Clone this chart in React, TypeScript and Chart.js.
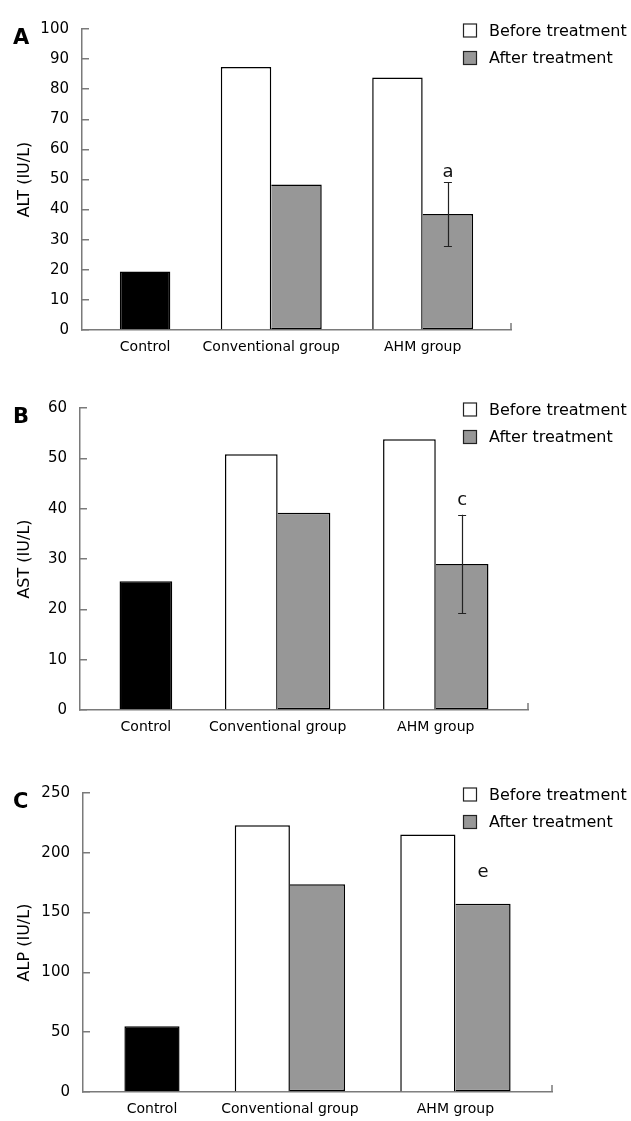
import React, { useEffect, useRef } from 'react';
import { Chart, registerables } from 'chart.js';

Chart.register(...registerables);

const FONT = '"DejaVu Sans", Verdana, sans-serif';

// ---- data ----
const categories = ['Control', 'Conventional group', 'AHM group'];
const seriesLabels = ['Before treatment', 'After treatment'];

const altControl = [19.4];
const altBefore = [87.4, 83.9];
const altAfter = [48.3, 38.5];
const altAfterSD = [null, 10.7];
const altMarks = ['', 'a'];
const altAxis = [0, 100, 10]; // min, max, step

const astControl = [25.6];
const astBefore = [50.8, 53.8];
const astAfter = [39.2, 29.0];
const astAfterSD = [null, 9.8];
const astMarks = ['', 'c'];
const astAxis = [0, 60, 10];

const alpControl = [54.9];
const alpBefore = [223.1, 215.2];
const alpAfter = [173.8, 157.5];
const alpAfterSD = [null, null];
const alpMarks = ['', 'e'];
const alpAxis = [0, 250, 50];

// ---- slot layout (each slot = half a bar width) ----
const SLOT_COUNT = 17;
const CONTROL_SLOTS = [2];
const LABEL_SLOTS = [2, 7, 13];
const BEFORE_SLOTS = [6, 12];
const AFTER_SLOTS = [8, 14];

function spread(values: (number | null)[], slots: number[]) {
  const arr: (number | null)[] = Array(SLOT_COUNT).fill(null);
  slots.forEach((s, i) => {
    arr[s] = values[i] ?? null;
  });
  return arr;
}

function slotLabels() {
  const arr: string[] = Array(SLOT_COUNT).fill('');
  LABEL_SLOTS.forEach((s, i) => (arr[s] = categories[i]));
  return arr;
}

const AXIS_COLOR = '#7a7a7a';
const GREY = '#979797';

type Panel = {
  letter: string;
  title: string;
  control: number[];
  before: number[];
  after: number[];
  sd: (number | null)[];
  marks: string[];
  axis: number[];
  top: number;
  height: number;
  padTop: number;
  plotBottom: number;
  left: number;
  right: number;
  markGap: number;
};

const panels: Panel[] = [
  {
    letter: 'A', title: 'ALT (IU/L)', control: altControl, before: altBefore, after: altAfter,
    sd: altAfterSD, marks: altMarks, axis: altAxis,
    top: 0, height: 370, padTop: 24, plotBottom: 330, left: 82, right: 511, markGap: 10,
  },
  {
    letter: 'B', title: 'AST (IU/L)', control: astControl, before: astBefore, after: astAfter,
    sd: astAfterSD, marks: astMarks, axis: astAxis,
    top: 379, height: 370, padTop: 24.3, plotBottom: 331, left: 80, right: 528, markGap: 14,
  },
  {
    letter: 'C', title: 'ALP (IU/L)', control: alpControl, before: alpBefore, after: alpAfter,
    sd: alpAfterSD, marks: alpMarks, axis: alpAxis,
    top: 764, height: 357, padTop: 23.7, plotBottom: 330, left: 83, right: 552, markGap: 31,
  },
];

const X_AXIS_H = 26;

function makeDecor(p: Panel) {
  return {
    id: 'decor' + p.letter,
    afterDatasetsDraw(chart: any) {
      const { ctx, scales } = chart;
      const x = scales.x;
      const y = scales.y;
      ctx.save();
      p.after.forEach((v, i) => {
        const cx = x.getPixelForValue(AFTER_SLOTS[i]);
        const sd = p.sd[i];
        let topPx = y.getPixelForValue(v);
        if (sd != null) {
          const yHi = y.getPixelForValue(v + sd);
          const yLo = y.getPixelForValue(v - sd);
          ctx.strokeStyle = '#222';
          ctx.lineWidth = 1.2;
          ctx.beginPath();
          ctx.moveTo(Math.round(cx) + 0.5, yHi);
          ctx.lineTo(Math.round(cx) + 0.5, yLo);
          ctx.moveTo(cx - 4, Math.round(yHi) + 0.5);
          ctx.lineTo(cx + 4, Math.round(yHi) + 0.5);
          ctx.moveTo(cx - 4, Math.round(yLo) + 0.5);
          ctx.lineTo(cx + 4, Math.round(yLo) + 0.5);
          ctx.stroke();
          topPx = yHi;
        }
        const m = p.marks[i];
        if (m) {
          ctx.fillStyle = '#111';
          ctx.font = `18px ${FONT}`;
          ctx.textAlign = 'center';
          ctx.textBaseline = 'middle';
          ctx.fillText(m, cx, topPx - p.markGap);
        }
      });
      ctx.restore();
    },
    afterDraw(chart: any) {
      const { ctx, chartArea } = chart;
      ctx.save();
      // end tick on x axis
      ctx.strokeStyle = AXIS_COLOR;
      ctx.lineWidth = 1.5;
      ctx.beginPath();
      ctx.moveTo(chartArea.right, chartArea.bottom);
      ctx.lineTo(chartArea.right, chartArea.bottom - 7);
      ctx.stroke();
      // panel letter
      ctx.fillStyle = '#000';
      ctx.font = `bold 21px ${FONT}`;
      ctx.textAlign = 'left';
      ctx.textBaseline = 'alphabetic';
      ctx.fillText(p.letter, 13, chartArea.top + 15);
      // legend
      const fills = ['#ffffff', GREY];
      seriesLabels.forEach((lab, i) => {
        const cy = chartArea.top + 1.5 + i * 27.5;
        ctx.fillStyle = fills[i];
        ctx.fillRect(463.5, cy - 6.5, 13, 13);
        ctx.strokeStyle = '#222';
        ctx.lineWidth = 1.2;
        ctx.strokeRect(463.5, cy - 6.5, 13, 13);
        ctx.fillStyle = '#000';
        ctx.font = `16px ${FONT}`;
        ctx.textAlign = 'left';
        ctx.textBaseline = 'middle';
        ctx.fillText(lab, 489, cy + 1);
      });
      ctx.restore();
    },
  };
}

function PanelChart({ p }: { p: Panel }) {
  const ref = useRef<HTMLCanvasElement | null>(null);
  useEffect(() => {
    if (!ref.current) return;
    const chart = new Chart(ref.current, {
      type: 'bar',
      data: {
        labels: slotLabels(),
        datasets: [
          {
            label: 'Control',
            data: spread(p.control, CONTROL_SLOTS),
            backgroundColor: '#000000',
            borderColor: '#000000',
            borderWidth: 1.5,
          },
          {
            label: seriesLabels[0],
            data: spread(p.before, BEFORE_SLOTS),
            backgroundColor: '#ffffff',
            borderColor: '#000000',
            borderWidth: 1.5,
          },
          {
            label: seriesLabels[1],
            data: spread(p.after, AFTER_SLOTS),
            backgroundColor: GREY,
            borderColor: '#000000',
            borderWidth: 1.5,
            borderSkipped: 'left',
          },
        ],
      },
      options: {
        animation: false,
        responsive: false,
        maintainAspectRatio: false,
        layout: {
          padding: {
            left: 0,
            top: p.padTop,
            right: 631 - p.right,
            bottom: p.height - p.plotBottom - X_AXIS_H,
          },
        },
        datasets: {
          bar: { grouped: false, categoryPercentage: 1, barPercentage: 2, inflateAmount: 0 },
        },
        plugins: {
          legend: { display: false },
          tooltip: { enabled: false },
        },
        scales: {
          x: {
            type: 'category',
            offset: true,
            grid: { display: false, drawTicks: false },
            border: { display: true, color: AXIS_COLOR, width: 1.5 },
            ticks: {
              autoSkip: false,
              maxRotation: 0,
              minRotation: 0,
              padding: 9,
              color: '#000',
              font: { family: FONT, size: 14 },
            },
            afterFit: (s: any) => {
              s.height = X_AXIS_H;
            },
          },
          y: {
            min: p.axis[0],
            max: p.axis[1],
            grid: {
              drawOnChartArea: false,
              drawTicks: true,
              tickLength: -7,
              color: AXIS_COLOR,
              lineWidth: 1.5,
            },
            border: { display: true, color: AXIS_COLOR, width: 1.5 },
            ticks: {
              stepSize: p.axis[2],
              padding: 20,
              color: '#000',
              font: { family: FONT, size: 15 },
            },
            title: {
              display: true,
              text: p.title,
              color: '#000',
              font: { family: FONT, size: 16 },
              padding: { top: 15, bottom: 0 },
            },
            afterFit: (s: any) => {
              s.width = p.left;
            },
          },
        },
      } as any,
      plugins: [makeDecor(p)],
    });
    return () => chart.destroy();
  }, [p]);
  return (
    <canvas
      ref={ref}
      width={631}
      height={p.height}
      style={{ position: 'absolute', left: 0, top: p.top, width: 631, height: p.height }}
    />
  );
}

export default function App() {
  return (
    <div style={{ position: 'absolute', left: 0, top: 0, width: 631, height: 1121, background: '#fff' }}>
      {panels.map((p) => (
        <PanelChart key={p.letter} p={p} />
      ))}
    </div>
  );
}
